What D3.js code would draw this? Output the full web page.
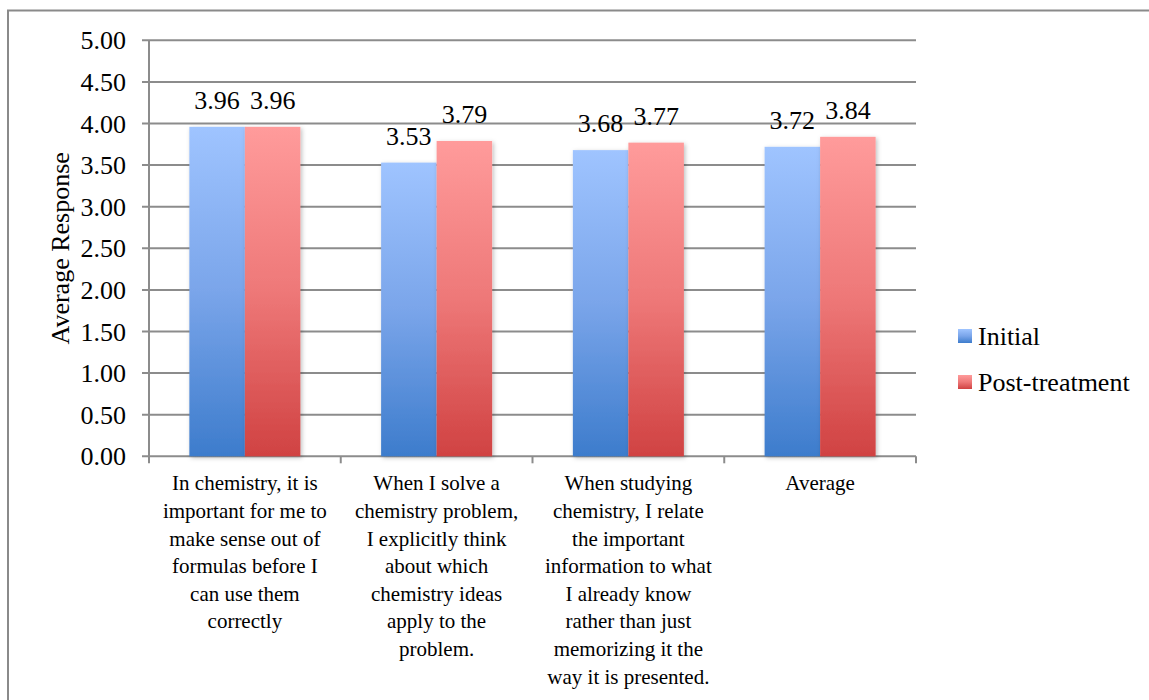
<!DOCTYPE html>
<html>
<head>
<meta charset="utf-8">
<script src="https://cdn.jsdelivr.net/npm/d3@7"></script>
<style>
  html, body { margin: 0; padding: 0; background: #fff; }
  svg { display: block; font-family: "Liberation Serif", "Times New Roman", serif; }
</style>
</head>
<body>
<svg id="chart" width="1149" height="700"></svg>
<script>
// Survey items (category axis)
const categories = [
  ["In chemistry, it is", "important for me to", "make sense out of", "formulas before I", "can use them", "correctly"],
  ["When I solve a", "chemistry problem,", "I explicitly think", "about which", "chemistry ideas", "apply to the", "problem."],
  ["When studying", "chemistry, I relate", "the important", "information to what", "I already know", "rather than just", "memorizing it the", "way it is presented."],
  ["Average"]
];
const seriesNames = ["Initial", "Post-treatment"];
const initialValues = [3.96, 3.53, 3.68, 3.72];
const postValues = [3.96, 3.79, 3.77, 3.84];
const yTicks = [0, 0.5, 1, 1.5, 2, 2.5, 3, 3.5, 4, 4.5, 5];

const svg = d3.select("#chart");

// gradients: light at the top, saturated at the bottom
const defs = svg.append("defs");
const gradStops = [
  [["0%", "#9fc4ff"], ["50%", "#7aa5ea"], ["100%", "#3d7ccc"]],
  [["0%", "#ff9b9b"], ["50%", "#ee7878"], ["100%", "#d04242"]]
];
gradStops.forEach((stops, i) => {
  const g = defs.append("linearGradient")
    .attr("id", "grad" + i).attr("x1", 0).attr("y1", 0).attr("x2", 0).attr("y2", 1);
  stops.forEach(s => g.append("stop").attr("offset", s[0]).attr("stop-color", s[1]));
});
const shadow = defs.append("filter").attr("id", "shadow")
  .attr("x", "-20%").attr("y", "-10%").attr("width", "140%").attr("height", "120%");
shadow.append("feDropShadow").attr("dx", 1.5).attr("dy", 1.5).attr("stdDeviation", 2)
  .attr("flood-color", "#000").attr("flood-opacity", 0.25);

// outer frame
svg.append("path")
  .attr("d", "M8,712 L8,10.5 L1160,10.5")
  .attr("fill", "none").attr("stroke", "#8a8a8a").attr("stroke-width", 2);

const plot = { left: 149, right: 916, top: 40.3, bottom: 456.3 };

const x = d3.scaleBand()
  .domain(d3.range(categories.length))
  .range([plot.left, plot.right])
  .paddingInner(0)
  .paddingOuter(0);

const inner = d3.scaleBand()
  .domain(d3.range(seriesNames.length))
  .range([0, x.bandwidth()])
  .paddingInner(0)
  .paddingOuter(0.727);

const y = d3.scaleLinear().domain([0, 5]).range([plot.bottom, plot.top]);

// gridlines
svg.append("g")
  .selectAll("line")
  .data(yTicks)
  .join("line")
  .attr("x1", plot.left - 7).attr("x2", plot.right)
  .attr("y1", d => y(d)).attr("y2", d => y(d))
  .attr("stroke", "#8c8c8c").attr("stroke-width", 2);

// y axis line
svg.append("line")
  .attr("x1", plot.left).attr("x2", plot.left)
  .attr("y1", plot.top).attr("y2", plot.bottom + 7)
  .attr("stroke", "#8c8c8c").attr("stroke-width", 2);

// category tick marks
svg.append("g")
  .selectAll("line")
  .data(d3.range(1, categories.length + 1))
  .join("line")
  .attr("x1", d => plot.left + d * x.step()).attr("x2", d => plot.left + d * x.step())
  .attr("y1", plot.bottom).attr("y2", plot.bottom + 7)
  .attr("stroke", "#8c8c8c").attr("stroke-width", 2);

// y tick labels
svg.append("g")
  .selectAll("text")
  .data(yTicks)
  .join("text")
  .attr("x", 126).attr("y", d => y(d))
  .attr("dy", "0.35em")
  .attr("text-anchor", "end")
  .attr("font-size", 26)
  .attr("fill", "#000")
  .text(d => d.toFixed(2));

// y axis title
svg.append("text")
  .attr("transform", `translate(60,${(plot.top + plot.bottom) / 2}) rotate(-90)`)
  .attr("dy", "0.35em")
  .attr("text-anchor", "middle")
  .attr("font-size", 26)
  .text("Average Response");

// bars
const rows = categories.map((c, i) => ({ i, vals: [initialValues[i], postValues[i]] }));
const groups = svg.append("g").selectAll("g")
  .data(rows).join("g")
  .attr("transform", d => `translate(${x(d.i)},0)`);

groups.selectAll("rect")
  .data(d => d.vals.map((v, s) => ({ v, s })))
  .join("rect")
  .attr("x", d => inner(d.s))
  .attr("width", inner.bandwidth())
  .attr("y", d => y(d.v))
  .attr("height", d => y(0) - y(d.v))
  .attr("fill", d => `url(#grad${d.s})`)
  .attr("filter", "url(#shadow)");

groups.selectAll("text.val")
  .data(d => d.vals.map((v, s) => ({ v, s })))
  .join("text")
  .attr("class", "val")
  .attr("x", d => inner(d.s) + inner.bandwidth() / 2)
  .attr("y", d => y(d.v) - 27)
  .attr("dy", "0.35em")
  .attr("text-anchor", "middle")
  .attr("font-size", 26)
  .text(d => d.v.toFixed(2));

// category labels
const catLabels = svg.append("g").selectAll("text")
  .data(categories.map((lines, i) => ({ lines, i })))
  .join("text")
  .attr("text-anchor", "middle")
  .attr("font-size", 21);
catLabels.selectAll("tspan")
  .data(d => d.lines.map(l => ({ l, i: d.i })))
  .join("tspan")
  .attr("x", d => x(d.i) + x.bandwidth() / 2)
  .attr("y", (d, k) => 483 + k * 27.6)
  .attr("dy", "0.35em")
  .text(d => d.l);

// legend
const legend = svg.append("g").selectAll("g")
  .data(seriesNames.map((n, s) => ({ n, s })))
  .join("g")
  .attr("transform", d => `translate(958,${336 + d.s * 46})`);
legend.append("rect")
  .attr("x", 0).attr("y", -7).attr("width", 14).attr("height", 14)
  .attr("fill", d => `url(#grad${d.s})`);
legend.append("text")
  .attr("x", 20).attr("y", 0).attr("dy", "0.35em")
  .attr("font-size", 26)
  .text(d => d.n);
</script>
</body>
</html>
